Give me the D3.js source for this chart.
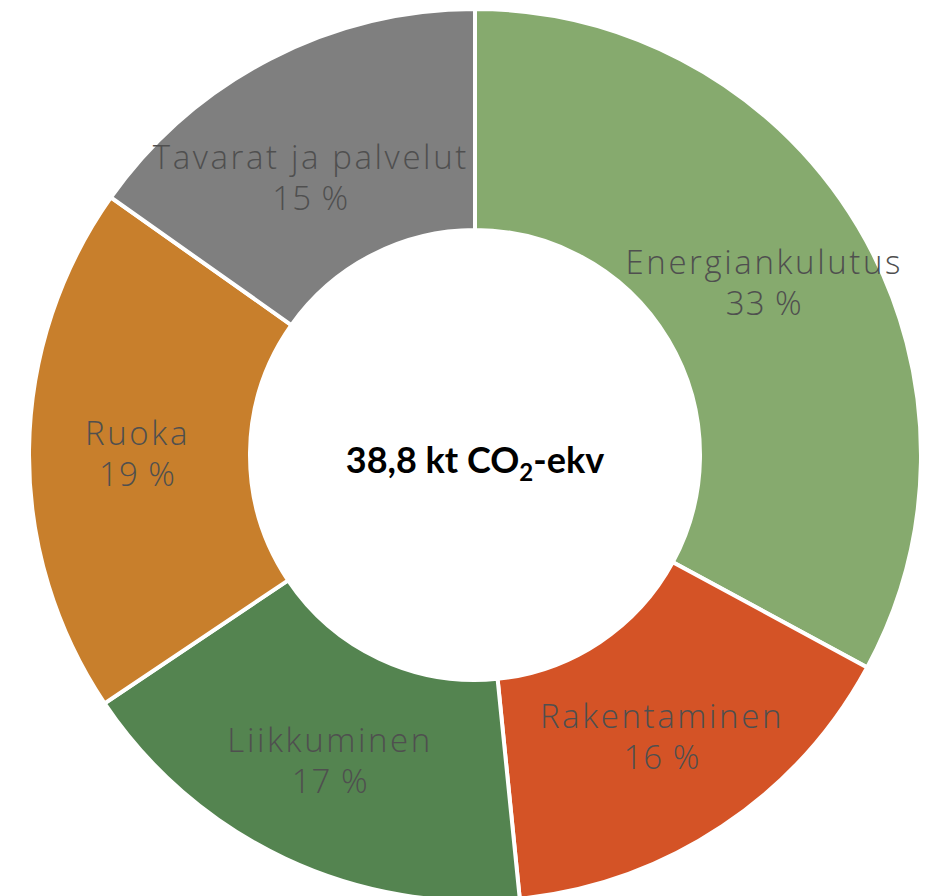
<!DOCTYPE html>
<html>
<head>
<meta charset="utf-8">
<script src="https://cdn.jsdelivr.net/npm/d3@7"></script>
<style>
  body { margin: 0; background: #fff; }
  .lbl { font-family: "Open Sans", sans-serif; font-weight: 300; font-size: 33px; fill: #4f4f4f; letter-spacing: 2.6px; }
  .total { font-family: Lato, sans-serif; font-weight: 700; font-size: 36px; fill: #000; }
</style>
</head>
<body>
<div id="chart"></div>
<script>
// share of emissions by sector (%)
var categories = ['Energiankulutus', 'Rakentaminen', 'Liikkuminen', 'Ruoka', 'Tavarat ja palvelut'];
var shares = [32.9, 15.5, 17.2, 19.2, 15.2];
var colors = ['#86aa6e', '#d45326', '#548450', '#c87f2c', '#7f7f7f'];
var totalLabel = '38,8 kt CO';

var svgWidth = 929;
var svgHeight = 896;
var cx = 475, cy = 455;
var outerR = 446, innerR = 225;

// small label nudges, like the original layout
var nudge = {
    'Energiankulutus': [1, -1],
    'Rakentaminen': [1, 2],
    'Liikkuminen': [-2, 1],
    'Ruoka': [-2, 2],
    'Tavarat ja palvelut': [-10, 20]
};

var data = categories.map((c, i) => ({ name: c, value: shares[i], color: colors[i] }));

var svg = d3.select('#chart')
    .append('svg')
    .attr('width', svgWidth)
    .attr('height', svgHeight);

var g = svg.append('g')
    .attr('transform', `translate(${cx},${cy})`);

var pie = d3.pie()
    .value(d => d.value)
    .sort(null);

var arc = d3.arc()
    .innerRadius(innerR)
    .outerRadius(outerR);

var arcs = pie(data);

g.selectAll('path')
    .data(arcs)
    .enter()
    .append('path')
    .attr('d', arc)
    .attr('fill', d => d.data.color)
    .attr('stroke', '#fff')
    .attr('stroke-width', 4);

var labels = g.selectAll('text.lbl')
    .data(arcs)
    .enter()
    .append('text')
    .attr('class', 'lbl')
    .attr('text-anchor', 'middle')
    .attr('transform', d => {
        var c = arc.centroid(d);
        var n = nudge[d.data.name];
        return `translate(${c[0] + n[0]},${c[1] + n[1]})`;
    });

labels.append('tspan')
    .attr('x', 0)
    .attr('y', -8)
    .text(d => d.data.name);

labels.append('tspan')
    .attr('x', 0)
    .attr('y', 33)
    .style('letter-spacing', '1px')
    .text(d => Math.round(d.data.value) + ' %');

// total in the middle
var t = g.append('text')
    .attr('class', 'total')
    .attr('text-anchor', 'middle')
    .attr('y', 18);
t.append('tspan').text(totalLabel);
t.append('tspan').attr('font-size', '24px').attr('dy', 8).text('2');
t.append('tspan').attr('dy', -8).text('-ekv');
</script>
</body>
</html>
